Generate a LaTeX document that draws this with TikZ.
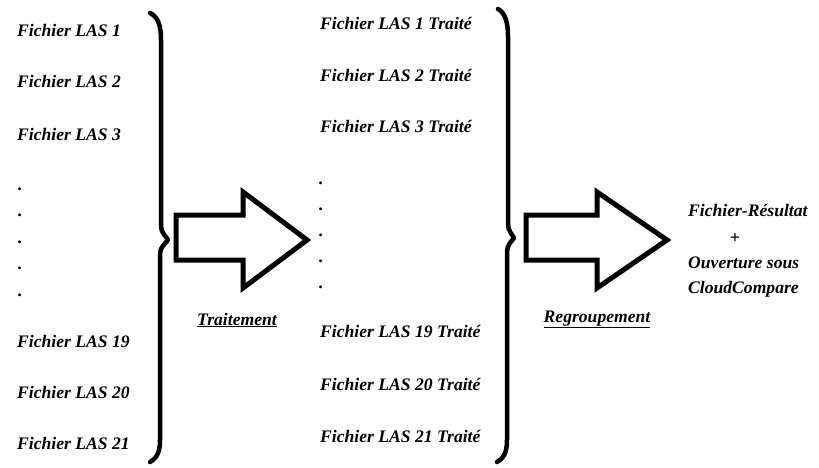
\documentclass[tikz,border=0pt]{standalone}
\usepackage{fontspec}
\setmainfont{Liberation Serif}
\begin{document}
\begin{tikzpicture}[x=1pt,y=-1pt,
  lbl/.style={font=\bfseries\itshape\fontsize{17.6}{20}\selectfont, anchor=base west, inner sep=0pt},
  dotlbl/.style={lbl},
  brace/.style={line width=4.5pt, line cap=round, line join=round},
  blockarrow/.style={line width=5pt, line join=miter, fill=white}]
\useasboundingbox (0,0) rectangle (819,468);
% left column
\node[lbl] (a1) at (17,37) {Fichier LAS 1};
\node[lbl] (a2) at (17,88) {Fichier LAS 2};
\node[lbl] (a3) at (17,140) {Fichier LAS 3};
\node[dotlbl] (ad1) at (18,190) {.};
\node[dotlbl] (ad2) at (18,216) {.};
\node[dotlbl] (ad3) at (18,243) {.};
\node[dotlbl] (ad4) at (18,269) {.};
\node[dotlbl] (ad5) at (18,296) {.};
\node[lbl] (a19) at (17,347) {Fichier LAS 19};
\node[lbl] (a20) at (17,398) {Fichier LAS 20};
\node[lbl] (a21) at (17,449) {Fichier LAS 21};
% left brace
\draw[brace] (150,13) .. controls (158,17) and (161,25) .. (161,40) -- (161,226)
  .. controls (161,233) and (166,236) .. (168,240)
  .. controls (165,244) and (160,247) .. (160,254) -- (160,440)
  .. controls (160,452) and (157,458) .. (150,462);
% arrow 1
\draw[blockarrow] (176,215) -- (243,215) -- (243,192) -- (307,240) -- (243,288) -- (243,260) -- (176,260) -- cycle;
\node[lbl, anchor=base] (t1) at (237,325) {\underline{Traitement}};
% middle column
\node[lbl] (b1) at (320,30) {Fichier LAS 1 Traité};
\node[lbl] (b2) at (320,82) {Fichier LAS 2 Traité};
\node[lbl] (b3) at (320,133) {Fichier LAS 3 Traité};
\node[dotlbl] (bd1) at (319,184) {.};
\node[dotlbl] (bd2) at (319,210) {.};
\node[dotlbl] (bd3) at (319,236) {.};
\node[dotlbl] (bd4) at (319,262) {.};
\node[dotlbl] (bd5) at (319,288) {.};
\node[lbl] (b19) at (320,337) {Fichier LAS 19 Traité};
\node[lbl] (b20) at (320,390) {Fichier LAS 20 Traité};
\node[lbl] (b21) at (320,442) {Fichier LAS 21 Traité};
% right brace
\draw[brace] (498,9) .. controls (505,13) and (508,22) .. (508,36) -- (508,224)
  .. controls (508,231) and (512,234) .. (514,238)
  .. controls (511,242) and (507,245) .. (507,252) -- (507,440)
  .. controls (507,452) and (504,458) .. (497,462);
% arrow 2
\draw[blockarrow] (526,215) -- (597,215) -- (597,192) -- (667,240) -- (597,288) -- (597,260) -- (526,260) -- cycle;
\node[lbl, anchor=base] (t2) at (597,322) {\underline{Regroupement}};
% result
\node[lbl] (r1) at (688,216) {Fichier-Résultat};
\node[lbl, anchor=base] (r2) at (735,243) {+};
\node[lbl] (r3) at (688,268) {Ouverture sous};
\node[lbl] (r4) at (688,293) {CloudCompare};
\end{tikzpicture}
\end{document}
